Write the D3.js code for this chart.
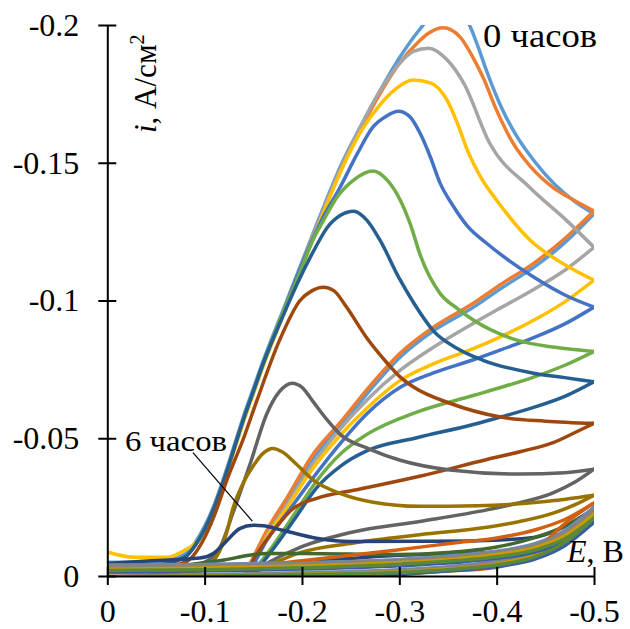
<!DOCTYPE html>
<html><head><meta charset="utf-8">
<script src="https://cdn.jsdelivr.net/npm/d3@7"></script>
<style>
html,body{margin:0;padding:0;background:#fff;}
svg{display:block;}
</style></head>
<body>
<svg id="chart" width="630" height="629"></svg>
<script>
// ---------- DATA ----------
const xTicks = [0, -0.1, -0.2, -0.3, -0.4, -0.5];
const yTicks = [0, -0.05, -0.1, -0.15, -0.2];
const colors = ["#5B9BD5","#ED7D31","#A5A5A5","#FFC000","#4472C4","#70AD47",
                "#255E91","#9E480E","#636363","#997300","#264478","#43682B",
                "#7CAFDD","#F1975A","#B7B7B7","#FFCD33","#698ED0","#8CC168",
                "#327DC2","#D26012","#848484","#CC9A00","#3A5DA0","#5A8A39"];

// forward scans [E, i] for series 1..12
const f1 = [[0,-0.005],[-0.05,-0.005],[-0.08,-0.008],[-0.09,-0.012],[-0.1,-0.018],[-0.11,-0.026],[-0.12,-0.036],[-0.13,-0.047],[-0.14,-0.058],[-0.15,-0.068],[-0.16,-0.078],[-0.18,-0.096],[-0.2,-0.114],[-0.22,-0.132],[-0.24,-0.149],[-0.26,-0.163],[-0.28,-0.176],[-0.3,-0.188],[-0.32,-0.198],[-0.335,-0.204],[-0.35,-0.207],[-0.362,-0.205],[-0.372,-0.2],[-0.38,-0.193],[-0.39,-0.183],[-0.405,-0.17],[-0.42,-0.16],[-0.44,-0.15],[-0.46,-0.142],[-0.48,-0.136],[-0.5,-0.1315]];
const f2 = [[0,-0.004],[-0.05,-0.004],[-0.08,-0.007],[-0.09,-0.011],[-0.1,-0.017],[-0.11,-0.025],[-0.12,-0.035],[-0.13,-0.046],[-0.14,-0.057],[-0.15,-0.067],[-0.16,-0.077],[-0.18,-0.095],[-0.2,-0.113],[-0.22,-0.131],[-0.24,-0.148],[-0.26,-0.162],[-0.28,-0.175],[-0.3,-0.186],[-0.32,-0.194],[-0.33,-0.197],[-0.345,-0.199],[-0.3625,-0.1956],[-0.376,-0.188],[-0.386,-0.181],[-0.4,-0.169],[-0.417,-0.157],[-0.435,-0.1485],[-0.458,-0.141],[-0.479,-0.1365],[-0.5,-0.1325]];
const f3 = [[0,-0.004],[-0.05,-0.004],[-0.08,-0.007],[-0.09,-0.011],[-0.1,-0.017],[-0.11,-0.025],[-0.12,-0.035],[-0.13,-0.046],[-0.14,-0.057],[-0.15,-0.067],[-0.16,-0.077],[-0.18,-0.095],[-0.2,-0.113],[-0.22,-0.131],[-0.24,-0.148],[-0.26,-0.163],[-0.28,-0.176],[-0.3,-0.186],[-0.315,-0.1905],[-0.33,-0.1916],[-0.35,-0.187],[-0.366,-0.179],[-0.393,-0.157],[-0.434,-0.141],[-0.472,-0.129],[-0.5,-0.1193]];
const f4 = [[0,-0.0087],[-0.027,-0.0068],[-0.062,-0.0068],[-0.078,-0.0091],[-0.095,-0.0135],[-0.11,-0.024],[-0.12,-0.034],[-0.13,-0.045],[-0.14,-0.056],[-0.15,-0.066],[-0.16,-0.076],[-0.18,-0.094],[-0.2,-0.112],[-0.22,-0.13],[-0.24,-0.147],[-0.26,-0.161],[-0.28,-0.171],[-0.297,-0.177],[-0.314,-0.18],[-0.332,-0.179],[-0.349,-0.1727],[-0.36,-0.164],[-0.37,-0.1545],[-0.385,-0.144],[-0.4,-0.1364],[-0.4345,-0.1219],[-0.47,-0.113],[-0.5,-0.1074]];
const f5 = [[0,-0.004],[-0.05,-0.004],[-0.08,-0.007],[-0.09,-0.011],[-0.1,-0.017],[-0.11,-0.025],[-0.12,-0.035],[-0.13,-0.046],[-0.14,-0.057],[-0.15,-0.067],[-0.16,-0.077],[-0.18,-0.095],[-0.2,-0.113],[-0.22,-0.129],[-0.239,-0.141],[-0.257,-0.1534],[-0.273,-0.163],[-0.287,-0.167],[-0.299,-0.1687],[-0.31,-0.167],[-0.3215,-0.1606],[-0.332,-0.152],[-0.342,-0.1425],[-0.355,-0.1345],[-0.37,-0.127],[-0.39,-0.1207],[-0.438,-0.1085],[-0.47,-0.102],[-0.5,-0.0976]];
const f6 = [[0,-0.004],[-0.05,-0.004],[-0.08,-0.007],[-0.09,-0.011],[-0.1,-0.017],[-0.11,-0.025],[-0.12,-0.035],[-0.13,-0.046],[-0.14,-0.057],[-0.15,-0.067],[-0.16,-0.077],[-0.18,-0.095],[-0.2,-0.112],[-0.21,-0.121],[-0.222,-0.129],[-0.236,-0.1375],[-0.253,-0.1437],[-0.273,-0.147],[-0.288,-0.1435],[-0.301,-0.1364],[-0.311,-0.128],[-0.322,-0.116],[-0.342,-0.1025],[-0.36,-0.097],[-0.376,-0.0929],[-0.421,-0.0856],[-0.46,-0.083],[-0.5,-0.0815]];
const f7 = [[0,-0.004],[-0.05,-0.004],[-0.08,-0.007],[-0.09,-0.011],[-0.1,-0.017],[-0.11,-0.025],[-0.12,-0.035],[-0.13,-0.046],[-0.14,-0.057],[-0.15,-0.067],[-0.16,-0.077],[-0.18,-0.094],[-0.195,-0.106],[-0.212,-0.118],[-0.226,-0.1265],[-0.24,-0.131],[-0.253,-0.1324],[-0.267,-0.129],[-0.28,-0.122],[-0.3,-0.108],[-0.315,-0.099],[-0.335,-0.089],[-0.36,-0.0825],[-0.386,-0.0783],[-0.438,-0.0736],[-0.47,-0.072],[-0.5,-0.0705]];
const f8 = [[0,-0.003],[-0.05,-0.003],[-0.08,-0.005],[-0.1,-0.014],[-0.11,-0.022],[-0.123,-0.035],[-0.14,-0.05],[-0.154,-0.064],[-0.177,-0.0856],[-0.198,-0.1],[-0.21,-0.1035],[-0.222,-0.1048],[-0.233,-0.1035],[-0.245,-0.098],[-0.267,-0.0862],[-0.287,-0.0775],[-0.301,-0.0722],[-0.315,-0.0685],[-0.352,-0.0627],[-0.404,-0.0577],[-0.45,-0.0562],[-0.5,-0.0554]];
const f9 = [[0,-0.003],[-0.05,-0.003],[-0.09,-0.004],[-0.105,-0.006],[-0.116,-0.0105],[-0.129,-0.0228],[-0.147,-0.041],[-0.164,-0.059],[-0.177,-0.067],[-0.19,-0.07],[-0.2,-0.0685],[-0.212,-0.063],[-0.225,-0.057],[-0.239,-0.0515],[-0.27,-0.046],[-0.301,-0.042],[-0.352,-0.0385],[-0.424,-0.037],[-0.47,-0.0375],[-0.5,-0.0388]];
const f10 = [[0,-0.0025],[-0.05,-0.0025],[-0.09,-0.003],[-0.1,-0.0035],[-0.113,-0.0075],[-0.122,-0.015],[-0.129,-0.0245],[-0.14,-0.034],[-0.15,-0.04],[-0.16,-0.0445],[-0.17,-0.0463],[-0.18,-0.045],[-0.193,-0.041],[-0.212,-0.0347],[-0.239,-0.03],[-0.273,-0.0268],[-0.321,-0.0253],[-0.38,-0.0255],[-0.45,-0.027],[-0.5,-0.0293]];
const f11 = [[0,-0.0045],[-0.045,-0.0055],[-0.095,-0.0065],[-0.109,-0.0082],[-0.123,-0.0129],[-0.136,-0.0172],[-0.15,-0.0184],[-0.16,-0.0182],[-0.18,-0.0166],[-0.215,-0.0137],[-0.25,-0.0125],[-0.321,-0.0126],[-0.38,-0.0128],[-0.438,-0.014],[-0.47,-0.018],[-0.5,-0.0245]];
const f12 = [[0,-0.003],[-0.05,-0.003],[-0.093,-0.0045],[-0.12,-0.0058],[-0.145,-0.0075],[-0.164,-0.0082],[-0.2,-0.0082],[-0.3,-0.0078],[-0.35,-0.0085],[-0.4,-0.0105],[-0.44,-0.014],[-0.47,-0.018],[-0.5,-0.024]];

// reverse scans [E, i] for series 1..12
const r1 = [[-0.5,-0.1315],[-0.47,-0.121],[-0.438,-0.112],[-0.405,-0.1045],[-0.376,-0.0975],[-0.335,-0.089],[-0.301,-0.0795],[-0.27,-0.0675],[-0.24,-0.0545],[-0.21,-0.042],[-0.185,-0.027],[-0.164,-0.015],[-0.15,-0.0055],[-0.138,0.003],[-0.12,0.012]];
const r2 = [[-0.5,-0.1325],[-0.47,-0.1225],[-0.438,-0.1135],[-0.405,-0.106],[-0.376,-0.099],[-0.335,-0.0903],[-0.301,-0.0809],[-0.27,-0.069],[-0.24,-0.056],[-0.21,-0.0435],[-0.185,-0.0286],[-0.164,-0.0166],[-0.15,-0.0068],[-0.138,0.002],[-0.12,0.011]];
const r3 = [[-0.5,-0.1193],[-0.47,-0.111],[-0.438,-0.104],[-0.405,-0.0975],[-0.376,-0.0917],[-0.335,-0.083],[-0.301,-0.0747],[-0.267,-0.064],[-0.236,-0.052],[-0.21,-0.04],[-0.185,-0.026],[-0.164,-0.0145],[-0.15,-0.005],[-0.138,0.003],[-0.12,0.012]];
const r4 = [[-0.5,-0.1074],[-0.47,-0.0995],[-0.438,-0.0928],[-0.405,-0.087],[-0.376,-0.0825],[-0.335,-0.077],[-0.301,-0.071],[-0.267,-0.061],[-0.239,-0.051],[-0.21,-0.0385],[-0.185,-0.025],[-0.164,-0.014],[-0.15,-0.0045],[-0.138,0.003],[-0.12,0.012]];
const r5 = [[-0.5,-0.0976],[-0.47,-0.0915],[-0.438,-0.0865],[-0.405,-0.0822],[-0.376,-0.0785],[-0.335,-0.0737],[-0.301,-0.0685],[-0.267,-0.059],[-0.236,-0.0467],[-0.21,-0.035],[-0.185,-0.023],[-0.164,-0.013],[-0.15,-0.004],[-0.138,0.003],[-0.12,0.012]];
const r6 = [[-0.5,-0.0815],[-0.47,-0.0765],[-0.438,-0.0722],[-0.405,-0.0685],[-0.376,-0.0655],[-0.318,-0.0595],[-0.267,-0.0515],[-0.24,-0.0445],[-0.215,-0.0345],[-0.195,-0.024],[-0.178,-0.015],[-0.163,-0.0075],[-0.15,-0.002],[-0.14,0.003],[-0.12,0.012]];
const r7 = [[-0.5,-0.0705],[-0.47,-0.0652],[-0.438,-0.0612],[-0.405,-0.0578],[-0.376,-0.055],[-0.318,-0.0502],[-0.267,-0.0455],[-0.24,-0.04],[-0.215,-0.032],[-0.195,-0.022],[-0.175,-0.012],[-0.16,-0.005],[-0.145,0.002],[-0.125,0.01]];
const r8 = [[-0.5,-0.0554],[-0.48,-0.052],[-0.458,-0.0484],[-0.425,-0.0452],[-0.39,-0.0423],[-0.321,-0.0362],[-0.253,-0.0311],[-0.216,-0.0283],[-0.191,-0.0245],[-0.171,-0.0166],[-0.154,-0.0082],[-0.1435,-0.002],[-0.135,0.003],[-0.12,0.01]];
const r9 = [[-0.5,-0.0388],[-0.48,-0.034],[-0.458,-0.0302],[-0.42,-0.0263],[-0.39,-0.024],[-0.321,-0.0198],[-0.25,-0.0158],[-0.198,-0.0104],[-0.164,-0.0046],[-0.14,0.0005],[-0.12,0.006]];
const r10 = [[-0.5,-0.0293],[-0.48,-0.0258],[-0.458,-0.0228],[-0.42,-0.0195],[-0.39,-0.0177],[-0.321,-0.015],[-0.253,-0.012],[-0.198,-0.0085],[-0.164,-0.0035],[-0.14,0.0005],[-0.12,0.005]];
const r11 = [[-0.5,-0.0245],[-0.475,-0.017],[-0.45,-0.0125],[-0.404,-0.0088],[-0.3,-0.0075],[-0.2,-0.005],[-0.15,-0.0035],[-0.08,-0.0015],[0,0.001]];
const r12 = [[-0.5,-0.024],[-0.47,-0.014],[-0.44,-0.008],[-0.4,-0.004],[-0.35,-0.002],[-0.3,-0.0005],[-0.25,0.0005],[-0.1,0.001],[0,0.001]];

// low-current series 13..24 on shared potential grids
const eLowFwd = [0, -0.1, -0.2, -0.3, -0.36, -0.4, -0.44, -0.47, -0.5];
const eLowRev = [-0.5, -0.47, -0.44, -0.4, -0.35, -0.3, -0.2, -0.1, 0];
const lf13 = [-0.003,-0.003,-0.0035,-0.0045,-0.0058,-0.0072,-0.0098,-0.0135,-0.021];
const lf14 = [-0.002,-0.0025,-0.0032,-0.0048,-0.0062,-0.0078,-0.0105,-0.0148,-0.023];
const lf15 = [-0.0035,-0.0036,-0.0042,-0.0055,-0.007,-0.0085,-0.0112,-0.0158,-0.024];
const lf16 = [-0.0025,-0.0028,-0.0034,-0.0047,-0.006,-0.0075,-0.0102,-0.0142,-0.022];
const lf17 = [-0.004,-0.0042,-0.0048,-0.006,-0.0075,-0.009,-0.0118,-0.0165,-0.025];
const lf18 = [-0.002,-0.0024,-0.003,-0.0042,-0.0055,-0.0069,-0.0094,-0.0132,-0.0205];
const lf19 = [-0.003,-0.0033,-0.0039,-0.0051,-0.0065,-0.008,-0.0108,-0.0152,-0.0235];
const lf20 = [-0.0012,-0.002,-0.0055,-0.0095,-0.0122,-0.0138,-0.0168,-0.0205,-0.0265];
const lf21 = [-0.0038,-0.004,-0.0046,-0.0058,-0.0072,-0.0087,-0.0115,-0.016,-0.0245];
const lf22 = [-0.0025,-0.0029,-0.0036,-0.0049,-0.0063,-0.0078,-0.0104,-0.0146,-0.0225];
const lf23 = [-0.0015,-0.0019,-0.0025,-0.0037,-0.005,-0.0064,-0.0088,-0.0125,-0.0195];
const lf24 = [-0.002,-0.0023,-0.003,-0.0043,-0.0056,-0.007,-0.0095,-0.0135,-0.021];
const lr13 = [-0.021,-0.012,-0.007,-0.004,-0.0022,-0.0012,-0.0004,0.0002,0.0008];
const lr14 = [-0.023,-0.0135,-0.0078,-0.0045,-0.0026,-0.0015,-0.0006,0,0.0006];
const lr15 = [-0.024,-0.0142,-0.0083,-0.0049,-0.0029,-0.0018,-0.0008,-0.0002,0.0004];
const lr16 = [-0.022,-0.0128,-0.0073,-0.0042,-0.0024,-0.0014,-0.0005,0.0001,0.0007];
const lr17 = [-0.025,-0.015,-0.009,-0.0055,-0.0034,-0.0023,-0.0012,-0.0005,0.0002];
const lr18 = [-0.0205,-0.0115,-0.0066,-0.0037,-0.002,-0.0011,-0.0003,0.0003,0.0009];
const lr19 = [-0.0235,-0.0138,-0.008,-0.0047,-0.0028,-0.0017,-0.0007,-0.0001,0.0005];
const lr20 = [-0.0265,-0.019,-0.0095,-0.0032,-0.0018,-0.0013,-0.0008,-0.0003,0.0003];
const lr21 = [-0.0245,-0.0146,-0.0086,-0.0052,-0.0031,-0.002,-0.001,-0.0003,0.0003];
const lr22 = [-0.0225,-0.0132,-0.0076,-0.0044,-0.0025,-0.0015,-0.0006,0,0.0006];
const lr23 = [-0.0195,-0.011,-0.0062,-0.0034,-0.0018,-0.001,-0.0002,0.0004,0.001];
const lr24 = [-0.021,-0.0122,-0.007,-0.004,-0.0023,-0.0013,-0.0005,0.0001,0.0007];

const labelStart = "0 часов";
const labelEnd = "6 часов";

// ---------- BUILD ----------
const fwdMain = [f1,f2,f3,f4,f5,f6,f7,f8,f9,f10,f11,f12];
const revMain = [r1,r2,r3,r4,r5,r6,r7,r8,r9,r10,r11,r12];
const lowF = [lf13,lf14,lf15,lf16,lf17,lf18,lf19,lf20,lf21,lf22,lf23,lf24];
const lowR = [lr13,lr14,lr15,lr16,lr17,lr18,lr19,lr20,lr21,lr22,lr23,lr24];

const series = [];
fwdMain.forEach((f,k)=>series.push({color:colors[k], fwd:f, rev:revMain[k]}));
lowF.forEach((f,k)=>series.push({
  color:colors[12+k],
  fwd:eLowFwd.map((e,j)=>[e,f[j]]),
  rev:eLowRev.map((e,j)=>[e,lowR[k][j]])
}));

const FONT = "Liberation Serif";
const svg = d3.select("#chart");
const x = d3.scaleLinear().domain([0,-0.5]).range([107.3,594]);
const y = d3.scaleLinear().domain([0,-0.2]).range([576,25]);

svg.append("defs").append("clipPath").attr("id","plot")
  .append("rect").attr("x",107.3).attr("y",25).attr("width",594-107.3).attr("height",576-25);

// monotone cubic along increasing pixel x (reverse scans are reordered for drawing)
const line = d3.line().x(d=>x(d[0])).y(d=>y(d[1])).curve(d3.curveMonotoneX);

const gLines = svg.append("g").attr("clip-path","url(#plot)");
series.forEach(s=>{
  [s.fwd, s.rev.slice().reverse()].forEach(pts=>{
    gLines.append("path").attr("d",line(pts)).attr("fill","none")
      .attr("stroke",s.color).attr("stroke-width",3.5)
      .attr("stroke-linejoin","round").attr("stroke-linecap","round");
  });
});

// axes
const fmt = v => String(v);
const yAxis = svg.append("g").attr("transform","translate(107.3,0)")
  .call(d3.axisLeft(y).tickValues(yTicks).tickFormat(fmt).tickSizeInner(9).tickSizeOuter(0).tickPadding(19));
const xAxis = svg.append("g").attr("transform","translate(0,576)")
  .call(d3.axisBottom(x).tickValues(xTicks).tickFormat(fmt).tickSizeInner(9).tickSizeOuter(0).tickPadding(14));
[yAxis,xAxis].forEach(g=>{
  g.attr("font-family",FONT).attr("font-size",32);
  g.select(".domain").attr("stroke","#000").attr("stroke-width",2);
  g.selectAll(".tick line").attr("stroke","#000").attr("stroke-width",2);
  g.selectAll(".tick text").attr("fill","#000").attr("font-family",FONT).attr("font-size",32);
});
yAxis.selectAll(".tick line").attr("x1",9).attr("x2",-9);
xAxis.selectAll(".tick line").attr("y1",-9).attr("y2",9);

// axis titles
const yt = svg.append("text").attr("transform","translate(156,133) rotate(-90)")
  .attr("font-family",FONT).attr("font-size",31).attr("text-anchor","start");
yt.append("tspan").attr("font-style","italic").text("i");
yt.append("tspan").text(", А/см");
yt.append("tspan").attr("font-size",20).attr("dy",-12).text("2");

const xt = svg.append("text").attr("x",567).attr("y",562).attr("font-family",FONT).attr("font-size",32);
xt.append("tspan").attr("font-style","italic").text("E");
xt.append("tspan").text(", В");

// annotations
svg.append("text").attr("x",483).attr("y",47).attr("font-family",FONT).attr("font-size",33)
  .attr("textLength",114).attr("lengthAdjust","spacingAndGlyphs").text(labelStart);
svg.append("text").attr("x",125).attr("y",451).attr("font-family",FONT).attr("font-size",29)
  .attr("textLength",102).attr("lengthAdjust","spacingAndGlyphs").text(labelEnd);
svg.append("line").attr("x1",x(-0.088)).attr("y1",y(-0.0448)).attr("x2",x(-0.149)).attr("y2",y(-0.0199))
  .attr("stroke","#000").attr("stroke-width",1.2);
</script>
</body></html>
